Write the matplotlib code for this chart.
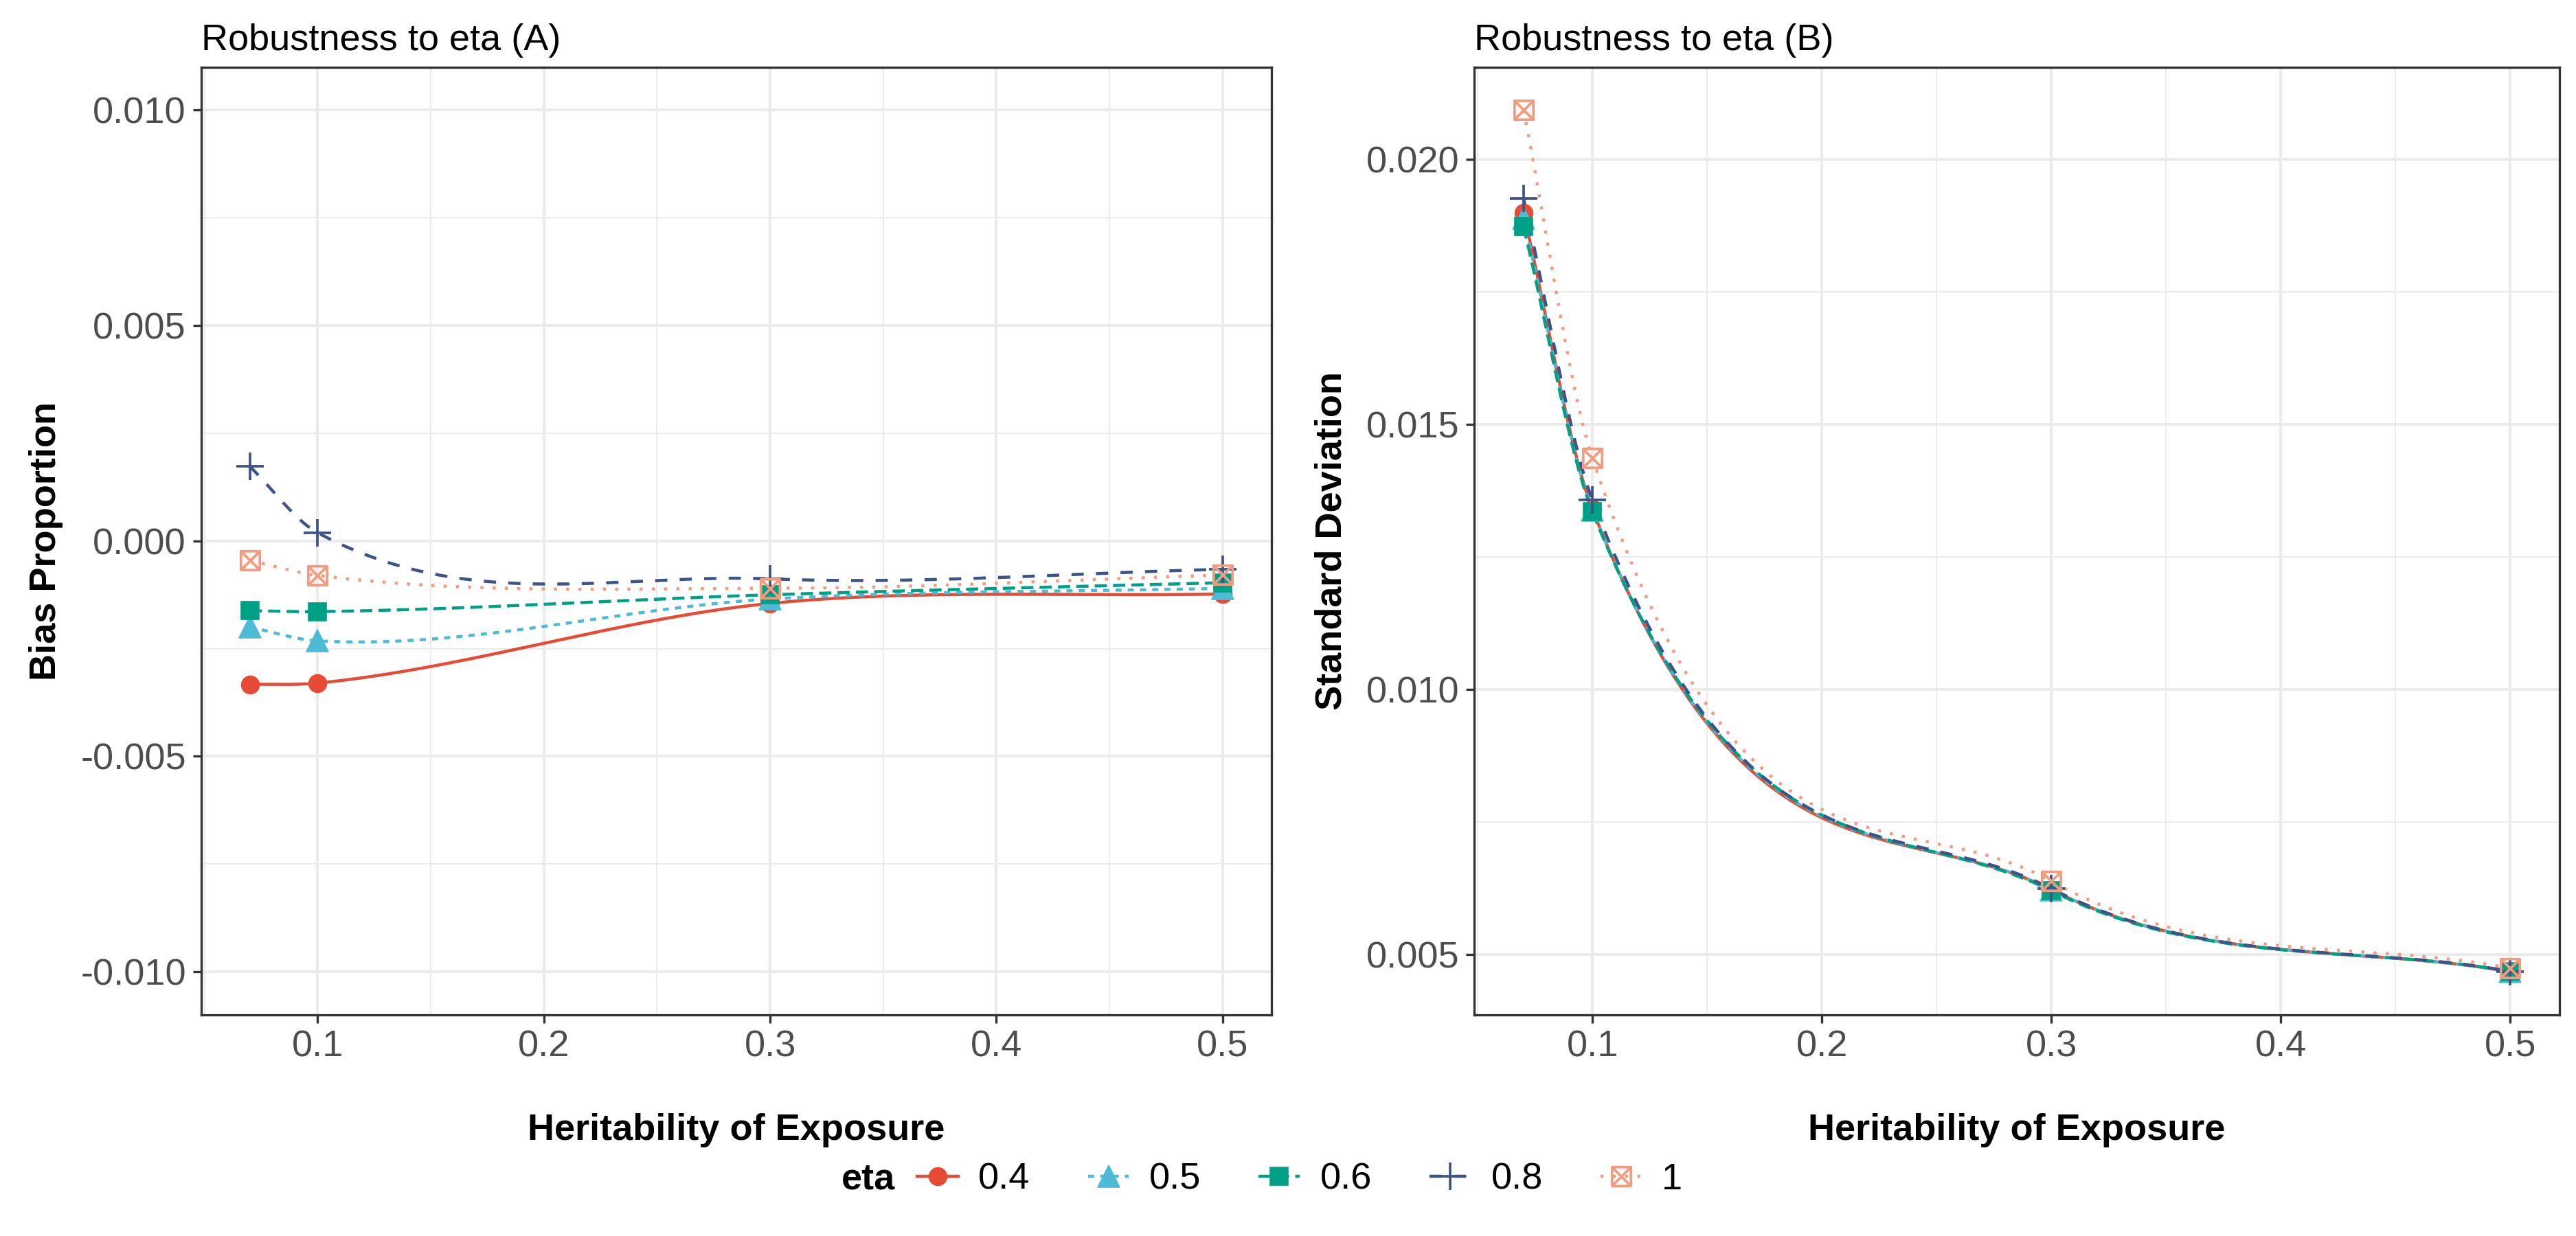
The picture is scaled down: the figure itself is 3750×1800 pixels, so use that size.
import numpy as np
import matplotlib.pyplot as plt
from matplotlib.lines import Line2D
from matplotlib.path import Path
from matplotlib.ticker import FixedLocator, FuncFormatter

plt.rcParams['font.family'] = ['Liberation Sans', 'DejaVu Sans']
plt.rcParams['axes.unicode_minus'] = False

# heritability values on the x axis
heritability = [0.07, 0.1, 0.3, 0.5]
eta_levels = ['0.4', '0.5', '0.6', '0.8', '1']

# panel A: bias proportion, one list per eta
bias_04 = [-0.00333, -0.00330, -0.00145, -0.00123]
bias_05 = [-0.00200, -0.00232, -0.00135, -0.00110]
bias_06 = [-0.00162, -0.00164, -0.00125, -0.00097]
bias_08 = [0.00173, 0.00019, -0.00088, -0.00066]
bias_10 = [-0.00045, -0.00080, -0.00110, -0.00079]

# panel B: standard deviation, one list per eta
sd_04 = [0.01899, 0.01340, 0.00622, 0.00467]
sd_05 = [0.01888, 0.01338, 0.00622, 0.00467]
sd_06 = [0.01873, 0.01335, 0.00620, 0.00468]
sd_08 = [0.01926, 0.01357, 0.00624, 0.00468]
sd_10 = [0.02093, 0.01436, 0.00638, 0.00474]

bias_all = [bias_04, bias_05, bias_06, bias_08, bias_10]
sd_all = [sd_04, sd_05, sd_06, sd_08, sd_10]

# npg style colours
colors = ['#E64B35', '#4DBBD5', '#00A087', '#3C5488', '#F39B7F']
dashes = [None, (2, 2), (4, 2), (4, 4), (1, 3)]

# square with a cross (ggplot shape 7)
sq_cross = Path([(-1, -1), (1, -1), (1, 1), (-1, 1), (-1, -1),
                 (-1, -1), (1, 1), (-1, 1), (1, -1)],
                [Path.MOVETO, Path.LINETO, Path.LINETO, Path.LINETO, Path.CLOSEPOLY,
                 Path.MOVETO, Path.LINETO, Path.MOVETO, Path.LINETO])
markers = ['o', '^', 's', '+', sq_cross]
msizes = [6.2, 7.5, 6.2, 9.5, 6.6]
mfilled = [True, True, True, False, False]

LW = 1.07
grid_col = '#EBEBEB'
tick_col = '#4D4D4D'


def smooth_line(x, y):
    # cubic hermite, tangents = mean of the neighbouring secants
    x = np.asarray(x, float)
    y = np.asarray(y, float)
    d = np.diff(y) / np.diff(x)
    m = np.empty(len(x))
    m[0] = d[0]
    m[-1] = d[-1]
    m[1:-1] = (d[:-1] + d[1:]) / 2
    xs = np.linspace(x[0], x[-1], 400)
    k = np.clip(np.searchsorted(x, xs) - 1, 0, len(x) - 2)
    hk = x[k + 1] - x[k]
    t = (xs - x[k]) / hk
    h00 = 2 * t ** 3 - 3 * t ** 2 + 1
    h10 = t ** 3 - 2 * t ** 2 + t
    h01 = -2 * t ** 3 + 3 * t ** 2
    h11 = t ** 3 - t ** 2
    ys = h00 * y[k] + h10 * hk * m[k] + h01 * y[k + 1] + h11 * hk * m[k + 1]
    return xs, ys


def style_axes(ax, ymajor, yminor, ylim, fmt):
    ax.set_xlim(0.0485, 0.5215)
    ax.set_ylim(*ylim)
    ax.xaxis.set_major_locator(FixedLocator([0.1, 0.2, 0.3, 0.4, 0.5]))
    ax.xaxis.set_minor_locator(FixedLocator([0.05, 0.15, 0.25, 0.35, 0.45]))
    ax.yaxis.set_major_locator(FixedLocator(ymajor))
    ax.yaxis.set_minor_locator(FixedLocator(yminor))
    ax.xaxis.set_major_formatter(FuncFormatter(lambda v, p: f'{v:.1f}'))
    ax.yaxis.set_major_formatter(FuncFormatter(fmt))
    ax.grid(True, which='major', color=grid_col, linewidth=1.0, zorder=0)
    ax.grid(True, which='minor', color=grid_col, linewidth=0.5, zorder=0)
    ax.set_axisbelow(True)
    ax.tick_params(which='major', length=2.8, width=0.8, color='#333333',
                   labelsize=13, labelcolor=tick_col, pad=2.5)
    ax.tick_params(which='minor', length=0)
    for s in ax.spines.values():
        s.set_color('#333333')
        s.set_linewidth(0.8)


def draw_panel(ax, series):
    for i, ys in enumerate(series):
        xs, yy = smooth_line(heritability, ys)
        ln, = ax.plot(xs, yy, color=colors[i], linewidth=LW, zorder=2)
        if dashes[i] is not None:
            ln.set_dashes(dashes[i])
            ln.set_dash_capstyle('butt')
    for i, ys in enumerate(series):
        if mfilled[i]:
            ax.plot(heritability, ys, linestyle='none', marker=markers[i],
                    markersize=msizes[i], color=colors[i],
                    markeredgewidth=0.4, zorder=3)
        else:
            ax.plot(heritability, ys, linestyle='none', marker=markers[i],
                    markersize=msizes[i], markerfacecolor='none',
                    markeredgecolor=colors[i], markeredgewidth=0.9, zorder=3)


def fmt3(v, p):
    s = f'{v:.3f}'
    return '0.000' if s == '-0.000' else s


fig = plt.figure(figsize=(12.5, 6), dpi=300)
axA = fig.add_axes([0.0781, 0.1790, 0.4154, 0.7667])
axB = fig.add_axes([0.5723, 0.1790, 0.4213, 0.7667])

draw_panel(axA, bias_all)
style_axes(axA, [-0.01, -0.005, 0.0, 0.005, 0.01],
           [-0.0075, -0.0025, 0.0025, 0.0075], (-0.011, 0.011), fmt3)
axA.set_title('Robustness to eta (A)', loc='left', fontsize=13, pad=6)
axA.set_xlabel('Heritability of Exposure', fontsize=13, fontweight='bold', labelpad=17)
axA.set_ylabel('Bias Proportion', fontsize=13, fontweight='bold', labelpad=6)

draw_panel(axB, sd_all)
style_axes(axB, [0.005, 0.010, 0.015, 0.020],
           [0.0075, 0.0125, 0.0175], (0.00386, 0.02174), fmt3)
axB.set_title('Robustness to eta (B)', loc='left', fontsize=13, pad=6)
axB.set_xlabel('Heritability of Exposure', fontsize=13, fontweight='bold', labelpad=17)
axB.set_ylabel('Standard Deviation', fontsize=13, fontweight='bold', labelpad=6)

# legend at the bottom
handles = []
for i in range(5):
    h = Line2D([], [], color=colors[i], linewidth=LW, marker=markers[i],
               markersize=msizes[i],
               markerfacecolor=colors[i] if mfilled[i] else 'none',
               markeredgecolor=colors[i],
               markeredgewidth=0.4 if mfilled[i] else 0.9)
    if dashes[i] is not None:
        h.set_dashes(dashes[i])
    handles.append(h)

fig.text(0.337, 0.0456, 'eta', fontsize=13, fontweight='bold', ha='center', va='center')
fig.legend(handles, eta_levels, ncol=5, loc='center left',
           bbox_to_anchor=(0.356, 0.0456), frameon=False, fontsize=13,
           handlelength=1.1, handletextpad=0.55, columnspacing=1.55,
           borderpad=0, borderaxespad=0)

fig.savefig('out.png', dpi=300, facecolor='white')
